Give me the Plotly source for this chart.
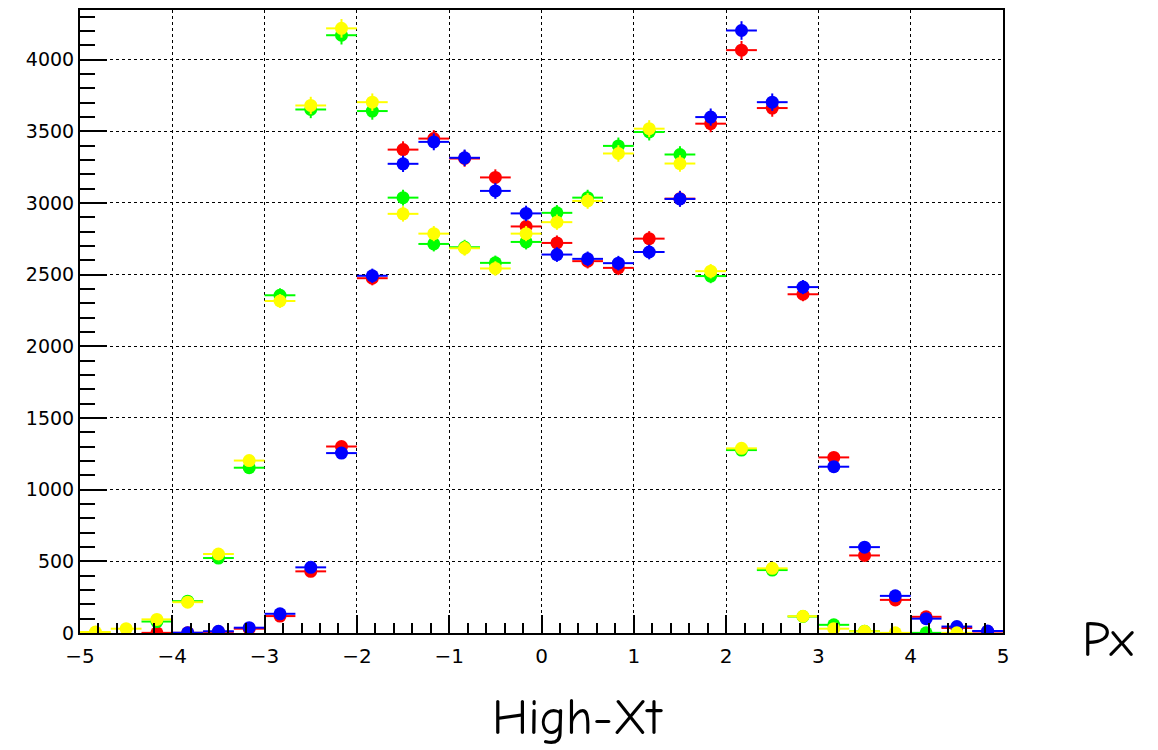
import numpy as np
import plotly.graph_objects as go

# Bin centres (30 bins from -5 to 5)
x_centres = [-4.833, -4.5, -4.167, -3.833, -3.5, -3.167, -2.833, -2.5, -2.167, -1.833,
             -1.5, -1.167, -0.833, -0.5, -0.167, 0.167, 0.5, 0.833, 1.167, 1.5,
             1.833, 2.167, 2.5, 2.833, 3.167, 3.5, 3.833, 4.167, 4.5, 4.833]
bin_half_width = 1.0 / 6.0

red = [None, None, 1, 1, 8, 30, 118, 430, 1301, 2475,
       3372, 3449, 3310, 3178, 2836, 2721, 2594, 2547, 2751, 3030,
       3553, 4066, 3662, 2363, 1225, 541, 231, 113, 35, 10]
green = [None, None, 80, 222, 523, 1153, 2356, 3652, 4170, 3641,
         3037, 2714, 2691, 2582, 2728, 2931, 3037, 3398, 3495, 3338,
         2490, 1276, 439, 115, 57, 12, None, 1, None, None]
blue = [None, None, None, 2, 12, 37, 134, 458, 1255, 2492,
        3273, 3426, 3315, 3084, 2927, 2640, 2610, 2580, 2658, 3028,
        3599, 4203, 3703, 2413, 1160, 599, 259, 100, 45, 14]
yellow = [7, 30, 95, 215, 551, 1203, 2316, 3680, 4218, 3703,
          2924, 2786, 2684, 2543, 2786, 2866, 3014, 3345, 3518, 3275,
          2524, 1288, 451, 117, 30, 12, 1, None, 1, None]

series = [("red", red, "#ff0000"), ("green", green, "#00ff00"),
          ("blue", blue, "#0000ff"), ("yellow", yellow, "#ffff00")]

fig = go.Figure()
for name, vals, col in series:
    xs = [xc for xc, v in zip(x_centres, vals) if v is not None]
    ys = [v for v in vals if v is not None]
    errs = [float(np.sqrt(v)) for v in ys]
    fig.add_trace(go.Scatter(
        x=xs, y=ys, mode="markers", name=name,
        marker=dict(color=col, size=13, symbol="circle", line=dict(width=0)),
        error_x=dict(type="constant", value=bin_half_width, color=col, thickness=2, width=0),
        error_y=dict(type="data", array=errs, color=col, thickness=2, width=0),
        showlegend=False, hoverinfo="skip",
    ))

axis_common = dict(
    showline=True, linecolor="black", linewidth=2, mirror=True,
    ticks="inside", tickcolor="black", tickwidth=2,
    showgrid=True, gridcolor="black", griddash="dot", gridwidth=1,
    zeroline=False,
)

fig.update_xaxes(range=[-5, 5], tick0=-5, dtick=1, ticklen=18,
                 minor=dict(dtick=0.2, ticklen=10, ticks="inside", tickcolor="black",
                            tickwidth=2, showgrid=False),
                 tickformat="d", ticklabelstandoff=4,
                 tickfont=dict(family="DejaVu Sans, Liberation Sans, sans-serif", size=20, color="black"),
                 **axis_common)
fig.update_yaxes(range=[0, 4346], tick0=0, dtick=500, ticklen=27,
                 minor=dict(dtick=100, ticklen=15, ticks="inside", tickcolor="black",
                            tickwidth=2, showgrid=False),
                 tickfont=dict(family="DejaVu Sans, Liberation Sans, sans-serif", size=19, color="black"),
                 **axis_common)

title_font = dict(family="Comic Sans MS, Comic Neue, Lato, sans-serif", size=50, color="black")
fig.add_annotation(text="Px", xref="paper", yref="paper", x=1.0, y=0.0,
                   xshift=105, yshift=-7, showarrow=False, font=title_font,
                   xanchor="center", yanchor="middle")
fig.add_annotation(text="High-Xt", xref="paper", yref="paper", x=0.539, y=0.0,
                   yshift=-85, showarrow=False, font=title_font,
                   xanchor="center", yanchor="middle")

fig.update_layout(
    width=1158, height=750,
    margin=dict(l=72, r=163, t=0, b=125),
    paper_bgcolor="white", plot_bgcolor="white",
    hovermode=False,
)

fig.write_html("out.html")
